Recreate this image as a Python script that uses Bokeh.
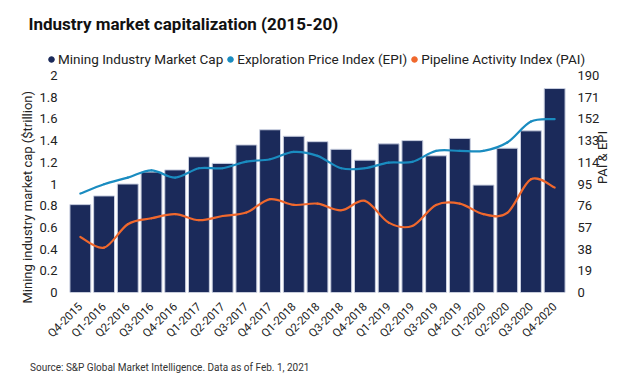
import math
from bokeh.plotting import figure
from bokeh.layouts import column
from bokeh.models import (ColumnDataSource, Range1d, LinearAxis, FixedTicker,
                          NumeralTickFormatter, Legend, LegendItem, Title, Div)
from bokeh.embed import file_html
from bokeh.resources import INLINE

# ---------------- data ----------------
quarters = ["Q4-2015", "Q1-2016", "Q2-2016", "Q3-2016", "Q4-2016", "Q1-2017", "Q2-2017",
            "Q3-2017", "Q4-2017", "Q1-2018", "Q2-2018", "Q3-2018", "Q4-2018", "Q1-2019",
            "Q2-2019", "Q3-2019", "Q4-2019", "Q1-2020", "Q2-2020", "Q3-2020", "Q4-2020"]
market_cap = [0.81, 0.89, 1.00, 1.11, 1.13, 1.25, 1.19, 1.36, 1.50, 1.44, 1.39,
              1.32, 1.22, 1.37, 1.40, 1.26, 1.42, 0.99, 1.33, 1.49, 1.88]
epi = [86.6, 94.8, 100.6, 107.0, 100.6, 108.8, 108.8, 114.6, 116.7, 123.1, 119.6,
       108.8, 108.8, 113.7, 114.4, 124.0, 124.0, 124.0, 131.3, 149.7, 151.8]
pai = [48.7, 39.3, 59.8, 65.0, 68.6, 63.3, 67.0, 70.0, 81.7, 76.7, 77.8,
       72.0, 80.2, 61.2, 58.3, 76.7, 77.8, 68.6, 69.7, 99.2, 91.9]
left_ticks = [0, 0.2, 0.4, 0.6, 0.8, 1, 1.2, 1.4, 1.6, 1.8, 2]
right_ticks = [0, 19, 38, 57, 76, 95, 114, 133, 152, 171, 190]

NAVY = "#1b2a5a"
BLUE = "#1a8cc0"
ORANGE = "#f0682d"
TXT = "#222222"
FONT = "Roboto"

xc = [i + 0.5 for i in range(len(quarters))]


def smooth_segments(xs, ys, t=1.0 / 6.0):
    n = len(xs)
    d = dict(x0=[], y0=[], x1=[], y1=[], cx0=[], cy0=[], cx1=[], cy1=[])
    for i in range(n - 1):
        a = max(i - 1, 0)
        b = min(i + 2, n - 1)
        d["x0"].append(xs[i]); d["y0"].append(ys[i])
        d["x1"].append(xs[i + 1]); d["y1"].append(ys[i + 1])
        d["cx0"].append(xs[i] + (xs[i + 1] - xs[a]) * t)
        d["cy0"].append(ys[i] + (ys[i + 1] - ys[a]) * t)
        d["cx1"].append(xs[i + 1] - (xs[b] - xs[i]) * t)
        d["cy1"].append(ys[i + 1] - (ys[b] - ys[i]) * t)
    return ColumnDataSource(d)


def bare(fig):
    fig.outline_line_color = None
    fig.background_fill_color = "white"
    fig.border_fill_color = "white"
    fig.grid.visible = False
    if "frame_align" in fig.properties():
        fig.frame_align = False


# ---------------- header: title + legend ----------------
head = figure(width=620, height=67, output_backend="svg", toolbar_location=None,
              x_range=Range1d(0, len(quarters)), y_range=Range1d(0, 2),
              x_axis_type=None, y_axis_type=None, min_border=0,
              min_border_left=0, min_border_right=0, min_border_top=0, min_border_bottom=0)
bare(head)
head.add_layout(Title(text="Industry market capitalization (2015-20)", text_font=FONT,
                      text_font_size="17px", text_font_style="bold", text_color="#111111",
                      align="left", offset=28, vertical_align="middle", standoff=24), "above")

k1 = head.scatter(x=xc, y=market_cap, marker="circle", fill_color=NAVY, line_color=NAVY,
                  visible=False)
k2 = head.scatter(x=xc, y=epi, marker="circle", fill_color=BLUE, line_color=BLUE,
                  visible=False)
k3 = head.scatter(x=xc, y=pai, marker="circle", fill_color=ORANGE, line_color=ORANGE,
                  visible=False)
legend = Legend(items=[LegendItem(label="Mining Industry Market Cap", renderers=[k1]),
                       LegendItem(label="Exploration Price Index (EPI)", renderers=[k2]),
                       LegendItem(label="Pipeline Activity Index (PAI)", renderers=[k3])],
                orientation="horizontal", location=(44, 0.5),
                glyph_width=14, glyph_height=14, label_height=14, label_standoff=0,
                spacing=0, padding=0, margin=0, border_line_color=None,
                background_fill_alpha=0, inactive_fill_alpha=0, label_text_font=FONT,
                label_text_font_size="13.5px", label_text_color=TXT)
head.add_layout(legend, "center")

# ---------------- main chart ----------------
p = figure(width=620, height=293, output_backend="svg", toolbar_location=None,
           x_range=Range1d(0, len(quarters)), y_range=Range1d(0, 2),
           min_border_left=68, min_border_right=50, min_border_top=8, min_border_bottom=68)
p.extra_y_ranges = {"idx": Range1d(0, 190)}
bare(p)

src = ColumnDataSource(dict(x=xc, cap=market_cap, q=quarters))
p.vbar(x="x", top="cap", width=0.88, source=src, fill_color=NAVY,
       line_color="#c9cfe0", line_width=1)

p.bezier(x0="x0", y0="y0", x1="x1", y1="y1", cx0="cx0", cy0="cy0", cx1="cx1", cy1="cy1",
         source=smooth_segments(xc, epi), line_color=BLUE, line_width=2.2,
         line_cap="round", y_range_name="idx")
p.bezier(x0="x0", y0="y0", x1="x1", y1="y1", cx0="cx0", cy0="cy0", cx1="cx1", cy1="cy1",
         source=smooth_segments(xc, pai), line_color=ORANGE, line_width=2.2,
         line_cap="round", y_range_name="idx")


def plain(ax, size="13px"):
    ax.axis_line_color = None
    ax.major_tick_line_color = None
    ax.minor_tick_line_color = None
    ax.major_label_text_font = FONT
    ax.major_label_text_font_size = size
    ax.major_label_text_color = TXT
    ax.axis_label_text_font = FONT
    ax.axis_label_text_font_size = "13px"
    ax.axis_label_text_font_style = "normal"
    ax.axis_label_text_color = TXT


# x axis
xa = p.xaxis[0]
plain(xa, "11.5px")
xa.ticker = FixedTicker(ticks=xc)
xa.major_label_overrides = {x: q for x, q in zip(xc, quarters)}
xa.major_label_orientation = math.pi / 4
xa.major_label_standoff = 6

# left axis (ticks)
ya = p.yaxis[0]
plain(ya)
ya.ticker = FixedTicker(ticks=left_ticks)
ya.formatter = NumeralTickFormatter(format="0.[0]")
ya.major_label_standoff = 5

# left axis title (placed along the axis like the original)
p.add_layout(Title(text="Mining industry market cap ($trillion)", text_font=FONT,
                   text_font_size="13px", text_font_style="normal", text_color=TXT,
                   align="left", offset=-11, vertical_align="bottom", standoff=4), "left")

# right axis (ticks)
ra = LinearAxis(y_range_name="idx", ticker=FixedTicker(ticks=right_ticks))
plain(ra)
ra.major_label_standoff = 5
p.add_layout(ra, "right")

# right axis title
rt = LinearAxis(y_range_name="idx", ticker=FixedTicker(ticks=[]), axis_label="PAI & EPI")
plain(rt)
rt.major_label_standoff = 0
rt.axis_label_standoff = 0
if "axis_label_orientation" in rt.properties():
    rt.axis_label_orientation = math.pi / 2
p.add_layout(rt, "right")

source_note = Div(text="Source: S&P Global Market Intelligence. Data as of Feb. 1, 2021",
                  render_as_text=True, width=620, height=16, margin=0,
                  styles={"font-family": FONT, "font-size": "10px", "color": "#333333",
                          "padding-left": "30px", "line-height": "16px",
                          "box-sizing": "border-box", "background": "white"})

layout = column(head, p, source_note, spacing=0)
open("out.html", "w").write(file_html(layout, INLINE))
